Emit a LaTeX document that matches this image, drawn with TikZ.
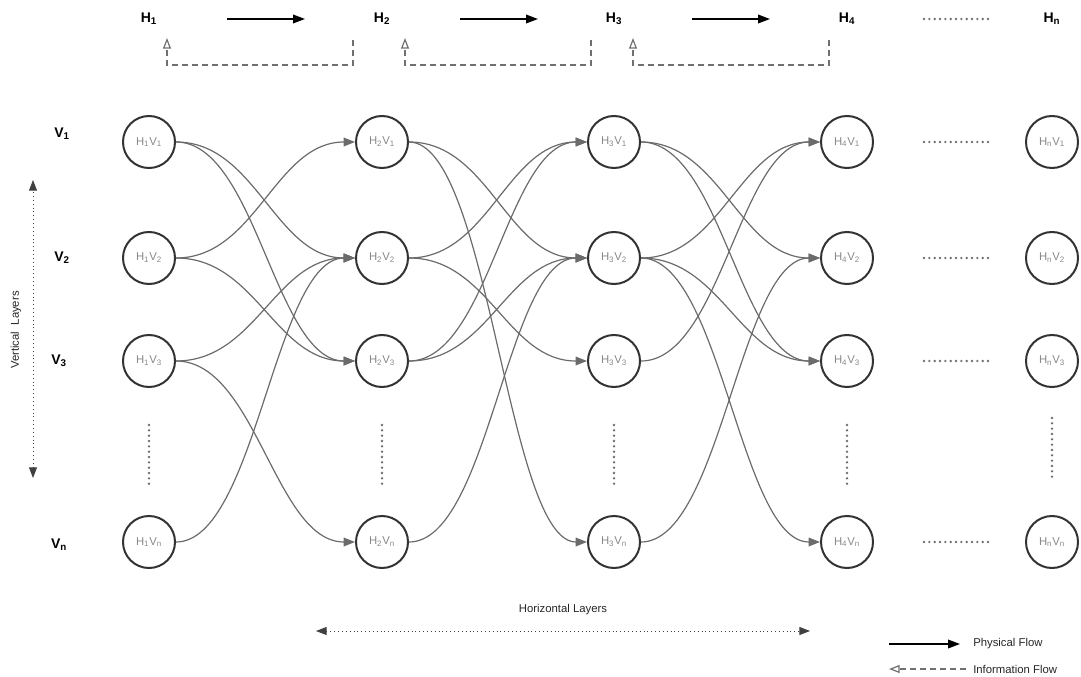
\documentclass[tikz,border=0pt]{standalone}
\usepackage{fontspec}
\setmainfont{Liberation Sans}
\usetikzlibrary{arrows.meta}
\definecolor{ringc}{HTML}{333333}
\definecolor{edgec}{HTML}{6B6B6B}
\definecolor{dotc}{HTML}{707070}
\definecolor{labc}{HTML}{888888}
\tikzset{
  px/.style={x=0.75pt,y=-0.75pt},
  unit/.style={circle,draw=ringc,line width=1.5pt,minimum size=39pt,inner sep=0pt,
    text=labc,font=\fontsize{8.5}{10}\selectfont},
  hlabel/.style={font=\fontsize{10.5}{12}\selectfont\bfseries,text=black},
  link/.style={draw=edgec,line width=0.9pt,-{Triangle[length=8.5pt,width=6.5pt]}},
  physflow/.style={draw=black,line width=1.1pt,-{Triangle[length=9pt,width=6.5pt]}},
  infoflow/.style={draw=dotc,line width=0.9pt,dash pattern=on 4.5pt off 3pt,
    -{Triangle[open,length=8pt,width=6pt,line width=0.9pt]}},
  ellipsis/.style={draw=dotc,line width=2pt,line cap=round,dash pattern=on 0pt off 4pt},
  axisarrow/.style={draw=black!75,line width=0.7pt,dash pattern=on 0.7pt off 2.2pt,
    {Triangle[length=8pt,width=6pt]}-{Triangle[length=8pt,width=6pt]}},
  small/.style={font=\fontsize{8.5}{10}\selectfont,text=black!85}
}
% smooth connector leaving and entering horizontally
\newcommand{\linkto}[2]{\draw[link] (#1.east) .. controls +(80,0) and +(-80,0) .. (#2.west);}
\begin{document}
\begin{tikzpicture}[px]
\useasboundingbox (0,0) rectangle (1081,677);

% column headers
\node[hlabel] (h1) at (149,19) {H\textsubscript{1}};
\node[hlabel] (h2) at (382,19) {H\textsubscript{2}};
\node[hlabel] (h3) at (614,19) {H\textsubscript{3}};
\node[hlabel] (h4) at (847,19) {H\textsubscript{4}};
\node[hlabel] (hn) at (1052,19) {H\textsubscript{n}};

% row headers
\node[hlabel] (v1) at (62,134) {V\textsubscript{1}};
\node[hlabel] (v2) at (62,258) {V\textsubscript{2}};
\node[hlabel] (v3) at (59,361) {V\textsubscript{3}};
\node[hlabel] (vn) at (59,545) {V\textsubscript{n}};

% physical flow between horizontal layers
\coordinate (p1a) at (227,19); \coordinate (p1b) at (305,19);
\coordinate (p2a) at (460,19); \coordinate (p2b) at (538,19);
\coordinate (p3a) at (692,19); \coordinate (p3b) at (770,19);
\draw[physflow] (p1a) -- (p1b);
\draw[physflow] (p2a) -- (p2b);
\draw[physflow] (p3a) -- (p3b);
\coordinate (hd1) at (924,19); \coordinate (hd2) at (989,19);
\draw[ellipsis] (hd1) -- (hd2);

% information feedback loops
\coordinate (i1a) at (353,40); \coordinate (i1b) at (167,38);
\coordinate (i2a) at (591,40); \coordinate (i2b) at (405,38);
\coordinate (i3a) at (829,40); \coordinate (i3b) at (633,38);
\draw[infoflow] (i1a) -- (353,65) -| (i1b);
\draw[infoflow] (i2a) -- (591,65) -| (i2b);
\draw[infoflow] (i3a) -- (829,65) -| (i3b);

% grid of units
\foreach \c/\x/\h in {1/149/1,2/382/2,3/614/3,4/847/4,5/1052/n}{
  \foreach \r/\y/\v in {1/142/1,2/258/2,3/361/3,4/542/n}{
    \node[unit] (n\c\r) at (\x,\y) {H\textsubscript{\h}V\textsubscript{\v}};
  }
}

% vertical ellipses
\foreach \c/\x/\ya/\yb in {1/149/425/486,2/382/425/486,3/614/425/486,4/847/425/486,5/1052/418/480}{
  \coordinate (va\c) at (\x,\ya); \coordinate (vb\c) at (\x,\yb);
  \draw[ellipsis] (va\c) -- (vb\c);
}
% horizontal ellipses towards the last column
\foreach \r/\y in {1/142,2/258,3/361,4/542}{
  \coordinate (ea\r) at (924,\y); \coordinate (eb\r) at (989,\y);
  \draw[ellipsis] (ea\r) -- (eb\r);
}

% links between consecutive columns
\foreach \a/\b in {11/22,11/23,12/21,12/23,13/22,13/24,14/22,
                   21/32,21/34,22/31,22/33,23/31,23/32,24/32,
                   31/42,31/43,32/41,32/43,32/44,33/41,34/42}{
  \linkto{n\a}{n\b}
}

% layer axes
\coordinate (vt) at (33,180); \coordinate (vbm) at (33,478);
\draw[axisarrow] (vbm) -- (vt);
\node[small,rotate=90] (vlab) at (16,330) {Vertical\ \ Layers};
\coordinate (hl) at (316,631); \coordinate (hr) at (810,631);
\draw[axisarrow] (hl) -- (hr);
\node[small] (hlab) at (563,610) {Horizontal Layers};

% legend
\coordinate (l1a) at (889,644); \coordinate (l1b) at (960,644);
\draw[physflow] (l1a) -- (l1b);
\node[small,anchor=west,inner sep=0pt] (lg1) at (973,644) {Physical Flow};
\coordinate (l2a) at (966,669); \coordinate (l2b) at (889,669);
\draw[infoflow] (l2a) -- (l2b);
\node[small,anchor=west,inner sep=0pt] (lg2) at (973,669) {Information Flow};
\end{tikzpicture}
\end{document}
